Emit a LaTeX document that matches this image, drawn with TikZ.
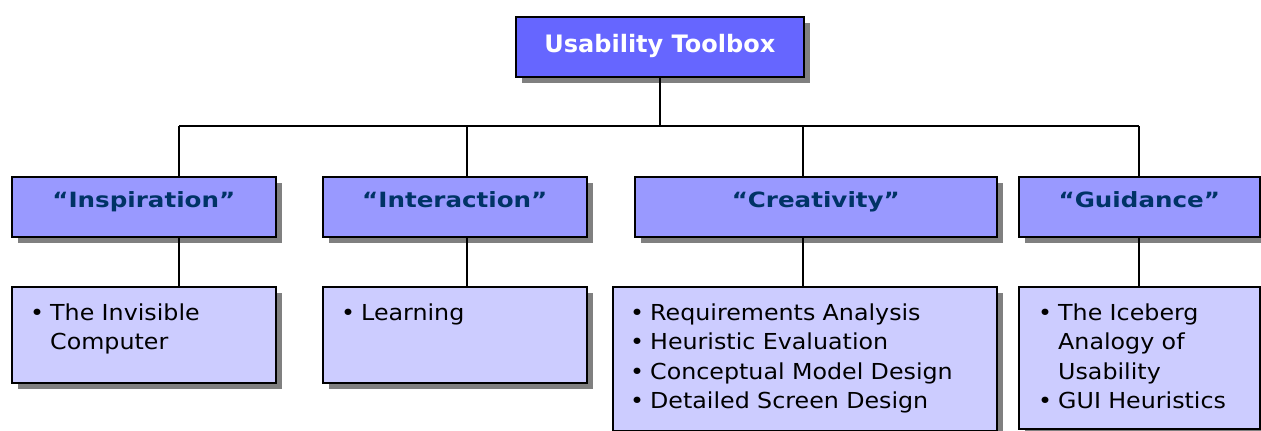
\documentclass[tikz,border=0pt]{standalone}
\usepackage{fontspec}
\setmainfont{DejaVu Sans}
\newfontfamily\bodyfont[FakeStretch=1.08]{DejaVu Sans}
\newfontfamily\headfont[FakeStretch=1.17]{DejaVu Sans}
\usetikzlibrary{shadows}
\definecolor{topfill}{HTML}{6666FF}
\definecolor{midfill}{HTML}{9999FF}
\definecolor{lowfill}{HTML}{CCCCFF}
\definecolor{headtext}{HTML}{003366}
\definecolor{shadowgray}{HTML}{808080}
\newcommand{\bitem}[1]{\par\hyphenpenalty=10000\hangindent=20pt\hangafter=1\noindent\makebox[20pt][l]{•}#1\par}
\tikzset{
  box/.style={draw=black, line width=1.6pt, rectangle, inner sep=0pt, anchor=north west,
    drop shadow={shadow xshift=6pt, shadow yshift=-6pt, fill=shadowgray, opacity=1}},
  topbox/.style={box, fill=topfill, minimum width=288pt, minimum height=60pt,
    text=white, text height=18pt, text depth=7pt,
    font=\fontsize{24}{28}\selectfont\bfseries},
  midbox/.style={box, fill=midfill, minimum height=60pt,
    text=headtext, text height=15pt, text depth=14pt,
    font=\headfont\fontsize{21}{25}\selectfont\bfseries},
  lowbox/.style={box, fill=lowfill},
  lowtext/.style={anchor=north west, inner sep=0pt, text width=#1,
    font=\bodyfont\fontsize{22}{29.3}\selectfont},
  conn/.style={line width=1.6pt, draw=black}
}
\begin{document}
\begin{tikzpicture}[x=1pt, y=-1pt]
\useasboundingbox (0,0) rectangle (1261,431);
% top
\node[topbox] (top) at (515,16) {Usability Toolbox};
% middle
\node[midbox, minimum width=264pt] (m1) at (11,176) {“Inspiration”};
\node[midbox, minimum width=264pt] (m2) at (322,176) {“Interaction”};
\node[midbox, minimum width=362pt] (m3) at (634,176) {“Creativity”};
\node[midbox, minimum width=241pt] (m4) at (1018,176) {“Guidance”};
% low
\node[lowbox, minimum width=264pt, minimum height=96pt] (l1) at (11,286) {};
\node[lowbox, minimum width=264pt, minimum height=96pt] (l2) at (322,286) {};
\node[lowbox, minimum width=384pt, minimum height=144pt] (l3) at (612,286) {};
\node[lowbox, minimum width=241pt, minimum height=142pt] (l4) at (1018,286) {};
\node[lowtext=240pt] (t1) at (30,291) {\bitem{The Invisible\newline Computer}};
\node[lowtext=240pt] (t2) at (341,291) {\bitem{Learning}};
\node[lowtext=370pt] (t3) at (630,291) {\bitem{Requirements Analysis}\bitem{Heuristic Evaluation}\bitem{Conceptual Model Design}\bitem{Detailed Screen Design}};
\node[lowtext=225pt] (t4) at (1038,291) {\bitem{The Iceberg\newline Analogy of\newline Usability}\bitem{GUI Heuristics}};
% connectors
\coordinate (b1) at (179,126);
\coordinate (b2) at (467,126);
\coordinate (b3) at (803,126);
\coordinate (b4) at (1139,126);
\draw[conn] (top.south) -- (top.south |- b1);
\draw[conn] (b1) -- (b4);
\foreach \i in {1,2,3,4} {
  \draw[conn] (b\i) -- (b\i |- m\i.north);
  \draw[conn] (b\i |- m\i.south) -- (b\i |- l\i.north);
}
\end{tikzpicture}
\end{document}
